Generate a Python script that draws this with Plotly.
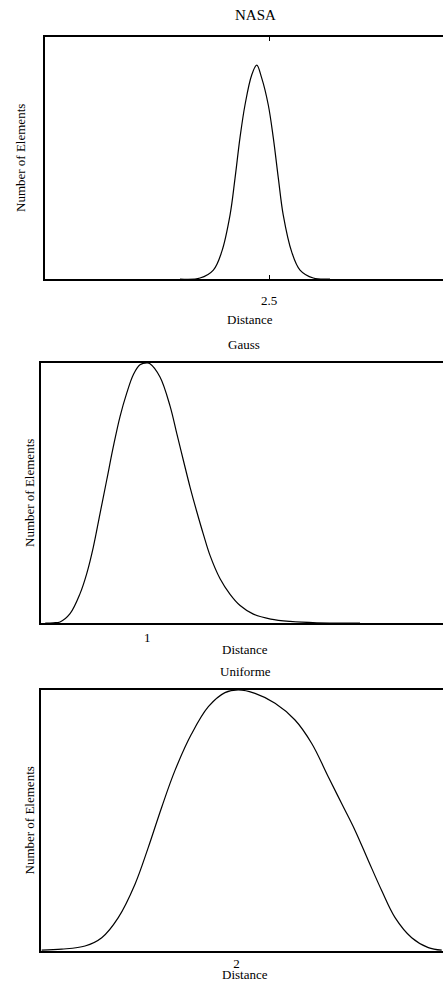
import plotly.graph_objects as go

# ---------------- data ----------------
nasa_x = [1.506, 1.729, 1.878, 1.971, 2.064, 2.120, 2.175, 2.231, 2.306, 2.362,
          2.417, 2.491, 2.547, 2.603, 2.658, 2.752, 2.845, 2.993, 3.180]
nasa_y = [0.000, 0.004, 0.037, 0.112, 0.264, 0.417, 0.583, 0.719, 0.843, 0.884,
          0.831, 0.719, 0.583, 0.417, 0.264, 0.112, 0.037, 0.004, 0.000]

gauss_x = [0.040, 0.116, 0.179, 0.273, 0.367, 0.430, 0.492, 0.555, 0.618, 0.680, 0.743,
           0.806, 0.868, 0.931, 1.000, 1.025, 1.119, 1.213, 1.277, 1.339, 1.402,
           1.465, 1.527, 1.590, 1.684, 1.778, 1.872, 1.997, 2.160, 2.342, 2.594, 3.000]
gauss_y = [0.000, 0.001, 0.004, 0.036, 0.113, 0.190, 0.292, 0.421, 0.550, 0.678, 0.794,
           0.884, 0.955, 0.993, 1.000, 0.997, 0.946, 0.835, 0.728, 0.625, 0.522,
           0.428, 0.341, 0.259, 0.170, 0.110, 0.067, 0.034, 0.015, 0.006, 0.001, 0.000]

unif_x = [0.007, 0.212, 0.450, 0.621, 0.790, 0.961, 1.097, 1.234, 1.370, 1.541, 1.711,
          1.881, 2.017, 2.188, 2.393, 2.597, 2.768, 2.938, 3.075, 3.211, 3.347,
          3.484, 3.620, 3.790, 3.960, 4.097]
unif_y = [0.003, 0.007, 0.019, 0.051, 0.128, 0.256, 0.397, 0.551, 0.692, 0.833, 0.936,
          0.990, 1.000, 0.987, 0.949, 0.885, 0.795, 0.667, 0.564, 0.462, 0.346,
          0.231, 0.128, 0.051, 0.013, 0.003]

titles = ["NASA", "Gauss", "Uniforme"]
tick_vals = [[2.5], [1], [2]]
tick_text = [["2.5"], ["1"], ["2"]]
x_label = "Distance"
y_label = "Number of Elements"

# ---------------- layout geometry ----------------
W, H = 443, 981
FONT = "Liberation Serif"


def py(px):
    return 1 - px / H


def pxx(px):
    return px / W


panels = [
    dict(x=nasa_x, y=nasa_y, left=45, top=37, bottom=279, xr=[0, 4.44],
         ticks="inside", standoff=9, title_xy=(255, 15), title_size=15,
         xl_xy=(250, 319), yl_x=21),
    dict(x=gauss_x, y=gauss_y, left=41, top=363, bottom=623, xr=[0, 3.78],
         ticks="", standoff=2, title_xy=(244, 344), title_size=13,
         xl_xy=(245, 649), yl_x=29),
    dict(x=unif_x, y=unif_y, left=41, top=690, bottom=951, xr=[0, 4.11],
         ticks="", standoff=0, title_xy=(245, 671), title_size=13,
         xl_xy=(245, 974), yl_x=29),
]

fig = go.Figure()
annotations = []
for i, p in enumerate(panels):
    n = "" if i == 0 else str(i + 1)
    fig.add_trace(go.Scatter(
        x=p["x"], y=p["y"], mode="lines",
        line=dict(color="black", width=1.2, shape="spline", smoothing=1.0),
        xaxis="x" + n, yaxis="y" + n, hoverinfo="skip", showlegend=False,
    ))
    fig.layout["xaxis" + n] = dict(
        domain=[pxx(p["left"]), 1.0], range=p["xr"], anchor="y" + n,
        showline=True, mirror="ticks" if p["ticks"] else True,
        linecolor="black", linewidth=1.5,
        showgrid=False, zeroline=False,
        tickmode="array", tickvals=tick_vals[i], ticktext=tick_text[i],
        ticks=p["ticks"], ticklen=4, tickwidth=1, tickcolor="black",
        ticklabelstandoff=p["standoff"],
        tickfont=dict(family=FONT, size=13, color="black"),
        fixedrange=True,
    )
    fig.layout["yaxis" + n] = dict(
        domain=[py(p["bottom"]), py(p["top"])], range=[0, 1], anchor="x" + n,
        showline=True, mirror=False, linecolor="black", linewidth=1.5,
        showgrid=False, zeroline=False, showticklabels=False, ticks="",
        fixedrange=True,
    )
    tx, ty = p["title_xy"]
    annotations.append(dict(text=titles[i], x=pxx(tx), y=py(ty), xref="paper", yref="paper",
                            showarrow=False, xanchor="center", yanchor="middle",
                            font=dict(family=FONT, size=p["title_size"], color="black")))
    lx, ly = p["xl_xy"]
    annotations.append(dict(text=x_label, x=pxx(lx), y=py(ly), xref="paper", yref="paper",
                            showarrow=False, xanchor="center", yanchor="middle",
                            font=dict(family=FONT, size=13, color="black")))
    annotations.append(dict(text=y_label, x=pxx(p["yl_x"]),
                            y=py((p["top"] + p["bottom"]) / 2), xref="paper", yref="paper",
                            showarrow=False, xanchor="center", yanchor="middle", textangle=-90,
                            font=dict(family=FONT, size=13, color="black")))

fig.update_layout(
    width=W, height=H, margin=dict(l=0, r=0, t=0, b=0),
    paper_bgcolor="white", plot_bgcolor="white",
    annotations=annotations, showlegend=False, hovermode=False,
)

fig.write_html("out.html", config={"displayModeBar": False})
